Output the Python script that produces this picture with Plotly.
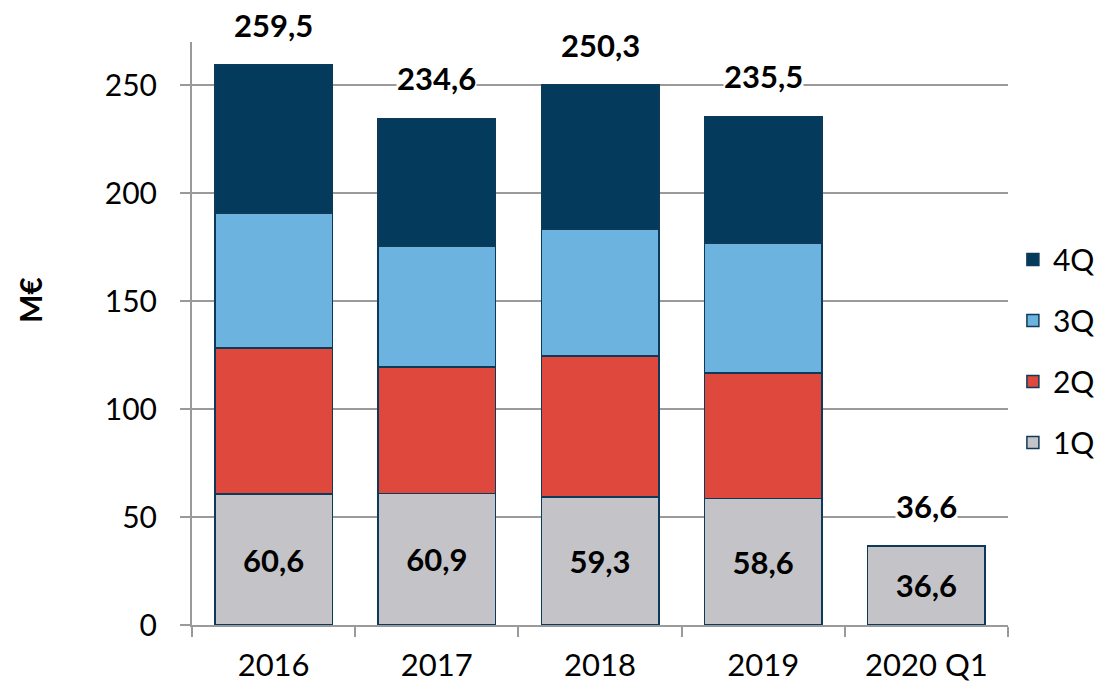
import plotly.graph_objects as go

categories = ["2016", "2017", "2018", "2019", "2020 Q1"]
q1 = [60.6, 60.9, 59.3, 58.6, 36.6]
q2 = [67.6, 58.5, 65.2, 58.1, None]
q3 = [62.5, 56.1, 58.8, 60.2, None]
q4 = [68.8, 59.1, 67.0, 58.6, None]
totals = [259.5, 234.6, 250.3, 235.5, 36.6]

series = [
    ("1Q", q1, "#C4C4C8"),
    ("2Q", q2, "#DF493D"),
    ("3Q", q3, "#6DB3E0"),
    ("4Q", q4, "#043A5C"),
]

FONT = "Lato"
# page has an 8px body margin; figure coordinates are page coordinates minus 8
L, T, PW, PH = 184, 34, 816, 583

fig = go.Figure()
for k, (name, vals, color) in enumerate(series):
    kw = {}
    if name == "1Q":
        kw = dict(
            texttemplate="%{y:.1f}",
            textposition="inside",
            insidetextanchor="middle",
            textangle=0,
            constraintext="none",
            textfont=dict(family=FONT, size=31, color="black", weight="bold"),
        )
    fig.add_trace(go.Bar(
        name=name, x=categories, y=vals, legendgroup=name, legendrank=len(series) - k,
        marker=dict(color=color, line=dict(color="#0E3A5A", width=1.5)),
        hoverinfo="skip", **kw))

for i, t in enumerate(totals):
    fig.add_annotation(
        x=i, y=t, yshift=40, text="<b>" + f"{t:.1f}".replace(".", ",") + "</b>",
        showarrow=False, bgcolor="white", font=dict(family=FONT, size=31, color="black"),
        xanchor="center", yanchor="middle", borderpad=0)

fig.add_annotation(
    xref="paper", yref="paper", x=-(L - 22) / PW, y=(T + PH - 292) / PH,
    text="<b>M€</b>", textangle=-90, showarrow=False,
    font=dict(family=FONT, size=30, color="black"), xanchor="center", yanchor="middle")

fig.update_layout(
    barmode="stack",
    bargap=0.28,
    width=1105, height=679,
    margin=dict(l=L, r=1105 - L - PW, t=T, b=679 - T - PH, autoexpand=False),
    paper_bgcolor="white", plot_bgcolor="white",
    separators=",.",
    font=dict(family=FONT, color="black"),
    showlegend=True,
    legend=dict(
        x=1.006, y=(T + PH - 343) / PH, xanchor="left", yanchor="middle",
        traceorder="grouped", tracegroupgap=19,
        font=dict(family=FONT, size=30, color="black"),
        bgcolor="rgba(0,0,0,0)", itemwidth=30,
    ),
    xaxis=dict(
        type="category", showgrid=False, showline=True, linecolor="#9A9A9A", linewidth=2,
        ticks="outside", tickson="boundaries", ticklen=10, tickcolor="#9A9A9A", tickwidth=2,
        tickfont=dict(family=FONT, size=31, color="black"), ticklabelstandoff=12,
    ),
    yaxis=dict(
        range=[0, 270], tickvals=[0, 50, 100, 150, 200, 250],
        showgrid=True, gridcolor="#9A9A9A", gridwidth=2,
        showline=True, linecolor="#9A9A9A", linewidth=2, zeroline=False,
        ticks="outside", ticklen=10, tickcolor="#9A9A9A", tickwidth=2,
        tickfont=dict(family=FONT, size=30, color="black"), ticklabelstandoff=17,
    ),
)

fig.write_html("out.html")
